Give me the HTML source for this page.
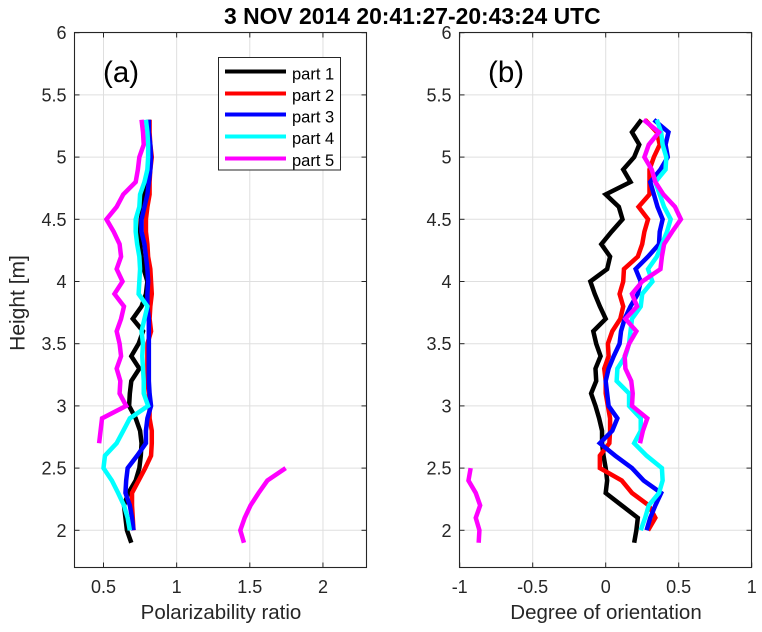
<!DOCTYPE html>
<html>
<head>
<meta charset="utf-8">
<title>Polarizability ratio and degree of orientation</title>
<style>
html,body{margin:0;padding:0;background:#fff;}
#chart{display:block;position:absolute;left:0;top:0;}
text{font-family:"Liberation Sans",sans-serif;fill:#262626;}
</style>
</head>
<body>
<svg id="chart" xmlns="http://www.w3.org/2000/svg" width="762" height="632" viewBox="0 0 762 632">
  <text x="224" y="24" style="font-size:22.9px;font-weight:bold;fill:#000">3 NOV 2014 20:41:27-20:43:24 UTC</text>
  <text x="0" y="0" transform="translate(24.5,303) rotate(-90)" text-anchor="middle" style="font-size:21px">Height [m]</text>
  <text x="221" y="619" text-anchor="middle" style="font-size:20.5px">Polarizability ratio</text>
  <text x="606" y="619" text-anchor="middle" style="font-size:20.5px">Degree of orientation</text>
  <g id="plots"></g>
  <text x="103" y="82" style="font-size:29.5px;fill:#000">(a)</text>
  <text x="488" y="82" style="font-size:29.5px;fill:#000">(b)</text>
  <g>
    <rect x="218.5" y="57.5" width="122" height="112.5" fill="#fff" stroke="#262626" stroke-width="1"/>
    <g><line x1="225" x2="286" y1="71.5" y2="71.5" stroke="#000" stroke-width="4"/><text x="292" y="79.5" style="font-size:16.5px;fill:#000">part 1</text></g>
    <g><line x1="225" x2="286" y1="93.5" y2="93.5" stroke="#f00" stroke-width="4"/><text x="292" y="101" style="font-size:16.5px;fill:#000">part 2</text></g>
    <g><line x1="225" x2="286" y1="114.5" y2="114.5" stroke="#00f" stroke-width="4"/><text x="292" y="122.5" style="font-size:16.5px;fill:#000">part 3</text></g>
    <g><line x1="225" x2="286" y1="136.5" y2="136.5" stroke="#0ff" stroke-width="4"/><text x="292" y="144" style="font-size:16.5px;fill:#000">part 4</text></g>
    <g><line x1="225" x2="286" y1="158.5" y2="158.5" stroke="#f0f" stroke-width="4"/><text x="292" y="166" style="font-size:16.5px;fill:#000">part 5</text></g>
  </g>
</svg>
<script>
const heights = [1.9,2.0,2.1,2.2,2.3,2.4,2.5,2.6,2.7,2.8,2.9,3.0,3.1,3.2,3.3,3.4,3.5,3.6,3.7,3.8,3.9,4.0,4.1,4.2,4.3,4.4,4.5,4.6,4.7,4.8,4.9,5.0,5.1,5.2,5.3];
const yTicks = [2,2.5,3,3.5,4,4.5,5,5.5,6];
const yTickLabels = ['2','2.5','3','3.5','4','4.5','5','5.5','6'];
const xTicksA = [0.5,1,1.5,2];
const xTickLabelsA = ['0.5','1','1.5','2'];
const xTicksB = [-1,-0.5,0,0.5,1];
const xTickLabelsB = ['-1','-0.5','0','0.5','1'];
const seriesNames = ['part-1','part-2','part-3','part-4','part-5'];
const seriesColors = ['#000000','#ff0000','#0000ff','#00ffff','#ff00ff'];

const ratioPart1 = [.69,.66,.65,.64,.67,.72,.745,.755,.76,.75,.72,.675,.68,.69,.745,.69,.74,.77,.70,.76,.79,.80,.775,.76,.75,.75,.755,.77,.78,.81,.81,.81,.81,.81,.81];
const ratioPart2 = [null,.705,.70,.695,.695,.74,.785,.825,.83,.83,.815,.815,.81,.80,.80,.80,.80,.825,.815,.82,.83,.825,.82,.805,.80,.79,.79,.80,.815,.815,.82,.83,.82,.815,.815];
const ratioPart3 = [null,.705,.695,.68,.65,.655,.665,.73,.79,.79,.80,.825,.815,.81,.81,.81,.81,.81,.81,.80,.80,.805,.80,.79,.78,.76,.76,.78,.80,.81,.82,.825,.82,.81,.81];
const ratioPart4 = [null,.68,.665,.64,.60,.557,.50,.51,.59,.635,.68,.805,.775,.775,.77,.765,.77,.76,.78,.80,.74,.745,.75,.745,.73,.72,.72,.745,.75,.78,.80,.805,.805,.80,.79];
const ratioPart5 = [1.46,1.435,1.465,1.505,1.56,1.62,1.745,null,.47,.48,.49,.655,.61,.615,.59,.62,.61,.59,.62,.64,.575,.63,.59,.62,.61,.57,.52,.59,.635,.72,.735,.745,.775,.77,.76];

const orientPart1 = [.195,.21,.22,.11,0,.01,0,-.015,-.025,-.025,-.045,-.07,-.10,-.065,-.07,-.035,-.065,-.085,0,-.04,-.075,-.105,.01,.03,-.03,.04,.115,.09,0,.17,.12,.195,.23,.18,.245];
const orientPart2 = [null,.29,.34,.295,.18,.11,-.04,-.04,.025,.03,.03,.015,0,0,-.01,.02,.015,.045,.10,.12,.095,.12,.125,.22,.25,.265,.29,.225,.30,.30,.30,.33,.37,.35,.27];
const orientPart3 = [null,.28,.305,.34,.38,.26,.18,.065,-.04,.045,.08,.02,.01,0,.02,.055,.095,.105,.13,.17,.22,.24,.205,.29,.365,.37,.39,.355,.33,.305,.375,.425,.41,.43,.33];
const orientPart4 = [null,.24,.27,.295,.365,.39,.385,.28,.195,.24,.24,.16,.16,.075,.08,.135,.16,.17,.18,.24,.25,.32,.29,.35,.385,.42,.445,.40,.37,.34,.41,.415,.39,.38,.35];
const orientPart5 = [-.87,-.865,-.89,-.86,-.89,-.94,-.925,null,.235,.255,.285,.18,.185,.175,.135,.13,.16,.21,.135,.215,.18,.25,.375,.385,.40,.455,.515,.475,.395,.34,.315,.265,.295,.365,.26];

const NS = 'http://www.w3.org/2000/svg';
const plots = document.getElementById('plots');
const yScale = h => 530.3 - (h - 2) * 124.4;
const plotTop = 32.5, plotBottom = 567.5;

function make(tag, attrs, parent){
  const el = document.createElementNS(NS, tag);
  for (const k in attrs) el.setAttribute(k, attrs[k]);
  parent.appendChild(el);
  return el;
}

function drawPanel(id, left, right, xScale, xTicks, xLabels, seriesList){
  const g = make('g', {}, plots);
  
  
  yTicks.forEach(t => {
    const y = yScale(t);
    const grid = make('line', {x1:left, x2:right, y1:y, y2:y, stroke:'#dfdfdf', 'stroke-width':1}, g);
    
    
  });
  xTicks.forEach(t => {
    const x = xScale(t);
    const grid = make('line', {x1:x, x2:x, y1:plotTop, y2:plotBottom, stroke:'#dfdfdf', 'stroke-width':1}, g);
    
    
  });
  seriesList.forEach((vals, i) => {
    let d = '';
    let pen = false;
    vals.forEach((v, j) => {
      if (v === null) { pen = false; return; }
      d += (pen ? 'L' : 'M') + xScale(v).toFixed(2) + ' ' + yScale(heights[j]).toFixed(2);
      pen = true;
    });
    const line = make('path', {d:d, fill:'none', stroke:seriesColors[i], 'stroke-width':4.5, 'stroke-linejoin':'miter', 'stroke-miterlimit':10}, g);
    
    
  });
  const box = make('rect', {x:left, y:plotTop, width:right-left, height:plotBottom-plotTop, fill:'none', stroke:'#262626', 'stroke-width':1.1}, g);
  
  
  yTicks.forEach((t, i) => {
    const y = yScale(t);
    make('line', {x1:left, x2:left+5, y1:y, y2:y, stroke:'#262626', 'stroke-width':1}, g);
    make('line', {x1:right-5, x2:right, y1:y, y2:y, stroke:'#262626', 'stroke-width':1}, g);
    const label = make('text', {x:left-8, y:y+6.5, 'text-anchor':'end', style:'font-size:18px'}, g);
    
    
    label.textContent = yTickLabels[i];
  });
  xTicks.forEach((t, i) => {
    const x = xScale(t);
    make('line', {x1:x, x2:x, y1:plotBottom-5, y2:plotBottom, stroke:'#262626', 'stroke-width':1}, g);
    make('line', {x1:x, x2:x, y1:plotTop, y2:plotTop+5, stroke:'#262626', 'stroke-width':1}, g);
    const label = make('text', {x:x, y:593, 'text-anchor':'middle', style:'font-size:18px'}, g);
    
    
    label.textContent = xLabels[i];
  });
}

drawPanel('a', 74.5, 366.5, v => 103.5 + (v - 0.5) * 146.3, xTicksA, xTickLabelsA,
  [ratioPart1, ratioPart2, ratioPart3, ratioPart4, ratioPart5]);
drawPanel('b', 459.5, 751.5, v => 605.7 + v * 146, xTicksB, xTickLabelsB,
  [orientPart1, orientPart2, orientPart3, orientPart4, orientPart5]);
</script>
</body>
</html>
